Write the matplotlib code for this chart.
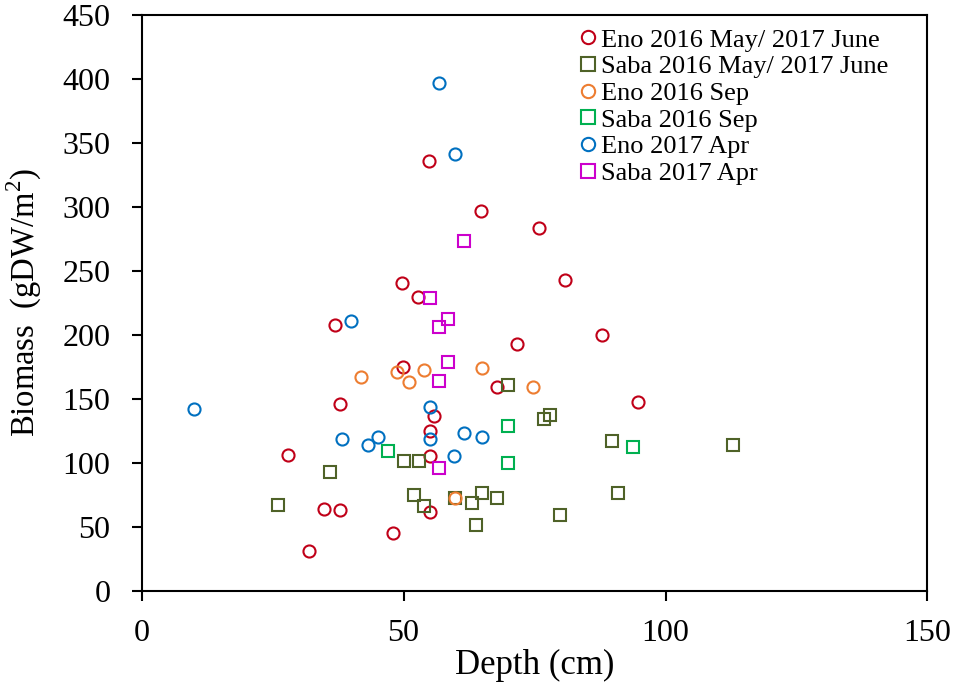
import numpy as np
import matplotlib
matplotlib.use('Agg')
import matplotlib.pyplot as plt

# values (depth in cm, biomass in gDW/m2)
eno_mayjun_x=[54.9,64.8,75.8,80.9,49.8,52.8,37.0,87.8,71.7,49.9,67.8,94.8,37.8,55.9,55.0,27.9,55.0,34.8,37.8,55.0,48.0,31.9]
eno_mayjun_y=[335.7,296.9,283.6,243.0,240.4,229.4,207.8,200.0,193.2,174.8,159.1,147.9,146.1,136.7,125.0,106.5,105.5,64.0,63.3,61.5,45.0,31.3]

saba_mayjun_x=[70.0,76.9,78.0,89.8,112.8,50.0,52.9,36.0,26.1,52.0,54.0,59.9,63.0,65.0,67.9,63.9,79.9,90.9]
saba_mayjun_y=[160.7,134.6,137.2,117.4,114.0,101.8,101.8,93.0,67.2,75.0,66.4,72.4,69.0,76.3,72.4,51.6,59.4,76.8]

eno_sep_x=[41.8,48.7,53.9,51.0,64.9,74.7,59.9]
eno_sep_y=[167.1,171.0,172.8,163.4,174.6,159.2,72.4]

saba_sep_x=[47.0,70.0,70.0,93.8]
saba_sep_y=[109.5,129.2,100.0,112.2]

eno_apr_x=[56.8,59.8,39.9,10.1,55.0,55.0,61.5,64.9,38.3,45.1,43.3,59.7]
eno_apr_y=[397.0,341.6,210.9,141.9,143.7,119.0,123.7,120.3,118.6,120.3,114.4,105.6]

saba_apr_x=[61.5,55.0,58.4,56.7,58.4,56.7,56.7]
saba_apr_y=[273.2,229.2,212.5,206.5,178.6,164.1,95.8]

series=[
    ('Eno 2016 May/ 2017 June', eno_mayjun_x, eno_mayjun_y, 'o', '#C00018'),
    ('Saba 2016 May/ 2017 June', saba_mayjun_x, saba_mayjun_y, 's', '#4F6228'),
    ('Eno 2016 Sep', eno_sep_x, eno_sep_y, 'o', '#ED7D31'),
    ('Saba 2016 Sep', saba_sep_x, saba_sep_y, 's', '#00B050'),
    ('Eno 2017 Apr', eno_apr_x, eno_apr_y, 'o', '#0070C0'),
    ('Saba 2017 Apr', saba_apr_x, saba_apr_y, 's', '#CC00CC'),
]

plt.rcParams['font.family']=['Liberation Serif','DejaVu Serif']
plt.rcParams['mathtext.fontset']='custom'
plt.rcParams['mathtext.rm']='Liberation Serif'

fig=plt.figure(figsize=(9.55,6.94),dpi=100)
ax=fig.add_axes([0.1482,0.1484,0.8230,0.8300])

for name,xs,ys,mk,col in series:
    ax.plot(xs,ys,linestyle='none',marker=mk,markersize=8.7,markerfacecolor='none',
            markeredgecolor=col,markeredgewidth=1.5,label=name)

ax.set_xlim(0,150)
ax.set_ylim(0,450)
ax.set_xticks([0,50,100,150])
ax.set_yticks(np.arange(0,451,50))

for s in ax.spines.values():
    s.set_linewidth(1.5)
ax.tick_params(axis='both',direction='out',length=7.5,width=1.5,labelsize=23)
ax.tick_params(axis='y',pad=15)
ax.tick_params(axis='x',pad=13)

ax.set_xlabel('Depth (cm)',fontsize=25,labelpad=0)
ax.set_ylabel(r'Biomass  (gDW/m$^{2}$)',fontsize=23.5,labelpad=13)

ax.legend(loc='upper left',bbox_to_anchor=(0.558,0.977),frameon=False,fontsize=19,
          borderpad=0,handlelength=0.6,handletextpad=0.2,labelspacing=0.12,borderaxespad=0,
          markerscale=1.1)

plt.savefig('out.png',dpi=100)
